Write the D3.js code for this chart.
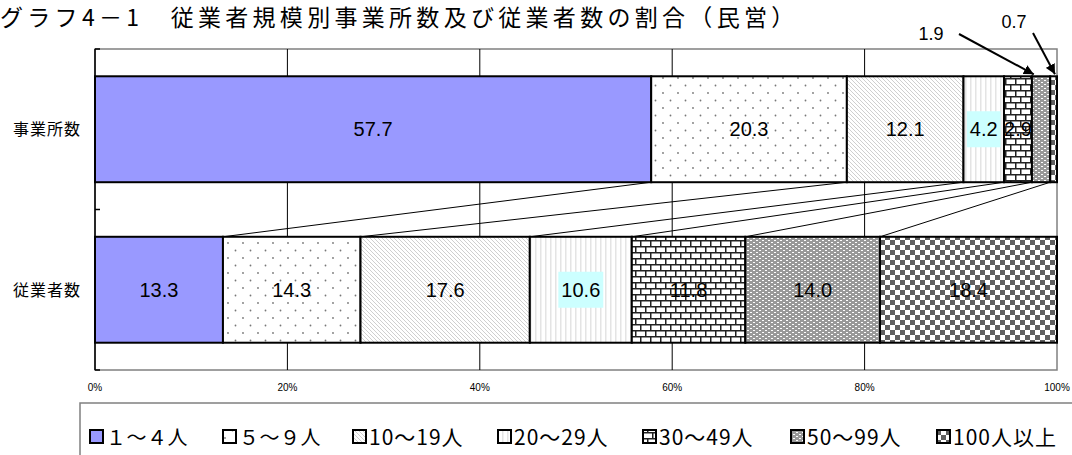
<!DOCTYPE html>
<html><head><meta charset="utf-8">
<script src="https://cdn.jsdelivr.net/npm/d3@7"></script>
<style>body{margin:0;background:#fff;overflow:hidden} svg{display:block}</style>
</head><body>
<svg id="c" width="1072" height="455"></svg>
<script>
const title = "グラフ4－1　従業者規模別事業所数及び従業者数の割合（民営）";
const categories = ["事業所数", "従業者数"];
const sizeClasses = ["1～4人", "5～9人", "10～19人", "20～29人", "30～49人", "50～99人", "100人以上"];
const legendLabels = ["１～４人", "５～９人", "10～19人", "20～29人", "30～49人", "50～99人", "100人以上"];
const establishments = [57.7, 20.3, 12.1, 4.2, 2.9, 1.9, 0.7];
const employees = [13.3, 14.3, 17.6, 10.6, 11.8, 14.0, 18.4];
const xTicks = [0, 20, 40, 60, 80, 100];

const JP = "'Noto Sans CJK JP', sans-serif";
const NUM = "'Liberation Sans', Arial, sans-serif";
const svg = d3.select("#c");
const L = 95, R = 1057, T = 49, B = 370;

const defs = svg.append("defs");
const patIds = ["p0","p1","p2","p3","p4","p5","p6"];
let p = defs.append("pattern").attr("id","p0").attr("patternUnits","userSpaceOnUse").attr("width",4).attr("height",4);
p.append("rect").attr("width",4).attr("height",4).attr("fill","#9999ff");
p = defs.append("pattern").attr("id","p1").attr("patternUnits","userSpaceOnUse").attr("width",15).attr("height",15);
p.append("rect").attr("width",15).attr("height",15).attr("fill","#fff");
p.append("circle").attr("cx",3).attr("cy",3).attr("r",0.9).attr("fill","#777");
p.append("circle").attr("cx",10.5).attr("cy",10.5).attr("r",0.9).attr("fill","#777");
p = defs.append("pattern").attr("id","p2").attr("patternUnits","userSpaceOnUse").attr("width",4).attr("height",4);
p.append("rect").attr("width",4).attr("height",4).attr("fill","#fff");
p.append("path").attr("d","M0,0 L4,4 M-1,3 L1,5 M3,-1 L5,1").attr("stroke","#cfcfcf").attr("stroke-width",1);
p = defs.append("pattern").attr("id","p3").attr("patternUnits","userSpaceOnUse").attr("width",5).attr("height",5);
p.append("rect").attr("width",5).attr("height",5).attr("fill","#fff");
p.append("rect").attr("x",0).attr("width",1.5).attr("height",5).attr("fill","#e4e4e4");
p = defs.append("pattern").attr("id","p4").attr("patternUnits","userSpaceOnUse").attr("width",10).attr("height",12);
p.append("rect").attr("width",10).attr("height",12).attr("fill","#fff");
p.append("path").attr("d","M0,0.75 H10 M0,6.75 H10 M0.75,0 V6 M5.75,6 V12").attr("stroke","#222").attr("stroke-width",1.5);
p = defs.append("pattern").attr("id","p5").attr("patternUnits","userSpaceOnUse").attr("width",6).attr("height",4);
p.append("rect").attr("width",6).attr("height",4).attr("fill","#999");
p.append("rect").attr("x",0).attr("y",0).attr("width",2).attr("height",1).attr("fill","#fff");
p.append("rect").attr("x",3).attr("y",2).attr("width",2).attr("height",1).attr("fill","#fff");
p = defs.append("pattern").attr("id","p6").attr("patternUnits","userSpaceOnUse").attr("width",10).attr("height",10);
p.append("rect").attr("width",10).attr("height",10).attr("fill","#fff");
p.append("rect").attr("width",5).attr("height",5).attr("fill","#606060");
p.append("rect").attr("x",5).attr("y",5).attr("width",5).attr("height",5).attr("fill","#606060");

defs.append("marker").attr("id","arr").attr("viewBox","0 0 10 10").attr("refX",10).attr("refY",5)
  .attr("markerWidth",5).attr("markerHeight",5).attr("orient","auto")
  .append("path").attr("d","M0,0 L10,5 L0,10 Z").attr("fill","#000");

const table = categories.map((c, ci) => {
  const row = {cat: c};
  const vals = ci === 0 ? establishments : employees;
  sizeClasses.forEach((k, i) => row[k] = vals[i]);
  return row;
});
const series = d3.stack().keys(sizeClasses).offset(d3.stackOffsetExpand)(table);

const x = d3.scaleLinear().domain([0, 1]).range([L, R]);
const xPct = d3.scaleLinear().domain([0, 100]).range([L, R]);
const y = d3.scaleBand().domain(categories).range([T, B]).paddingInner(0.34).paddingOuter(0.17);
const bw = y.bandwidth();

svg.append("text").attr("x", 0).attr("y", 26).attr("font-family", JP).attr("font-size", 23)
  .attr("letter-spacing", 4.3).attr("fill", "#000").text(title);

svg.append("rect").attr("x", L).attr("y", T).attr("width", R - L).attr("height", B - T)
  .attr("fill", "#fff").attr("stroke", "#808080").attr("stroke-width", 1.5);

svg.append("g").selectAll("line").data(xTicks.filter(t => t > 0 && t < 100)).join("line")
  .attr("x1", d => xPct(d)).attr("x2", d => xPct(d)).attr("y1", T).attr("y2", B)
  .attr("stroke", "#000").attr("stroke-width", 1);

svg.append("line").attr("x1", L).attr("x2", L).attr("y1", T).attr("y2", B).attr("stroke", "#000").attr("stroke-width", 1.5);
const yTicks = [T, (y(categories[0]) + bw + y(categories[1])) / 2, B];
svg.append("g").selectAll("line").data(yTicks).join("line")
  .attr("x1", L).attr("x2", L + 5).attr("y1", d => d).attr("y2", d => d).attr("stroke", "#000").attr("stroke-width", 1.5);

const topY = y(categories[0]) + bw, botY = y(categories[1]);
svg.append("g").selectAll("line").data(series.slice(0, series.length - 1)).join("line")
  .attr("x1", s => x(s[0][1])).attr("y1", topY)
  .attr("x2", s => x(s[1][1])).attr("y2", botY)
  .attr("stroke", "#000").attr("stroke-width", 1);

const gBars = svg.append("g");
series.forEach((s, i) => {
  gBars.selectAll(null).data(s).join("rect")
    .attr("x", d => x(d[0])).attr("width", d => x(d[1]) - x(d[0]))
    .attr("y", d => y(d.data.cat)).attr("height", bw)
    .attr("fill", `url(#${patIds[i]})`).attr("stroke", "#000").attr("stroke-width", 2);
});

const gLab = svg.append("g");
series.forEach((s, i) => {
  s.forEach(d => {
    const v = d.data[s.key];
    if (v < 2) return;
    const cx = (x(d[0]) + x(d[1])) / 2, cy = y(d.data.cat) + bw / 2;
    const t = gLab.append("text").attr("x", cx).attr("y", cy + 7).attr("text-anchor", "middle")
      .attr("font-family", NUM).attr("font-size", 20).attr("fill", "#000").text(v.toFixed(1));
    if (i === 3) {
      const bb = t.node().getBBox();
      gLab.insert("rect", () => t.node()).attr("x", bb.x - 3).attr("y", bb.y - 7).attr("width", bb.width + 6).attr("height", bb.height + 14).attr("fill", "#ccffff");
    }
  });
});

const tipFrac = {5: 0.1, 6: 0.7};
const labelPos = {5: [931, 40], 6: [1014, 28]};
const lineStart = {5: [959, 34], 6: [1033, 33]};
[5, 6].forEach(i => {
  const d = series[i][0];
  const tipX = x(d[0]) + (x(d[1]) - x(d[0])) * tipFrac[i];
  const tipY = y(d.data.cat) - 2;
  svg.append("line").attr("x1", lineStart[i][0]).attr("y1", lineStart[i][1]).attr("x2", tipX).attr("y2", tipY)
    .attr("stroke", "#000").attr("stroke-width", 2).attr("marker-end", "url(#arr)");
  svg.append("text").attr("x", labelPos[i][0]).attr("y", labelPos[i][1]).attr("text-anchor", "middle")
    .attr("font-family", NUM).attr("font-size", 18).attr("fill", "#000").text(d.data[series[i].key].toFixed(1));
});

svg.append("g").selectAll("text").data(categories).join("text")
  .attr("x", 13).attr("y", d => y(d) + bw / 2 + 6).attr("font-family", JP).attr("font-size", 16)
  .attr("letter-spacing", 1).attr("fill", "#000").text(d => d);

svg.append("g").selectAll("text").data(xTicks).join("text")
  .attr("x", d => xPct(d)).attr("y", 391).attr("text-anchor", "middle")
  .attr("font-family", NUM).attr("font-size", 10).attr("fill", "#000").text(d => d + "%");

svg.append("rect").attr("x", 80).attr("y", 403).attr("width", 1100).attr("height", 100)
  .attr("fill", "#fff").attr("stroke", "#808080").attr("stroke-width", 1.5);
const legX = [89, 222, 352, 497, 642, 790, 936];
const gLeg = svg.append("g").selectAll("g").data(legendLabels).join("g")
  .attr("transform", (d, i) => `translate(${legX[i]},0)`);
gLeg.append("rect").attr("x", 1).attr("y", 430).attr("width", 13).attr("height", 13)
  .attr("fill", (d, i) => `url(#${patIds[i]})`).attr("stroke", "#000").attr("stroke-width", 2);
gLeg.append("text").attr("x", 17).attr("y", 445).attr("font-family", JP)
  .attr("font-size", (d, i) => i < 2 ? 20 : 21)
  .attr("letter-spacing", (d, i) => i < 2 ? 0.5 : 1).attr("fill", "#000").text(d => d);
</script>
</body></html>
